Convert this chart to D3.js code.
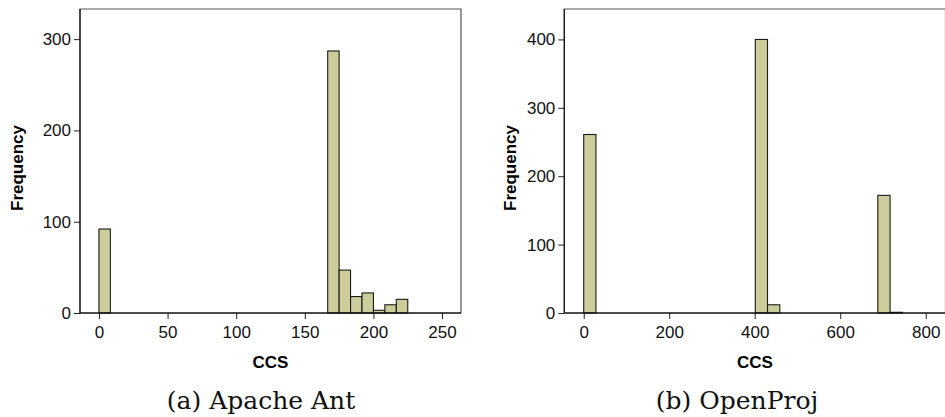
<!DOCTYPE html>
<html>
<head>
<meta charset="utf-8">
<script src="https://cdn.jsdelivr.net/npm/d3@7"></script>
<style>
  body { margin: 0; background: #fff; }
  svg { display: block; }
</style>
</head>
<body>
<div id="chart"></div>
<script>
// Apache Ant histogram (bin starts in CCS units, counts)
const antBinStarts = [0, 166.67, 175, 183.33, 191.67, 200, 208.33, 216.67];
const antCounts = [92, 287, 47, 18, 22, 3, 9, 15];
const antBinWidth = 8.33;
const antXTicks = [0, 50, 100, 150, 200, 250];
const antYTicks = [0, 100, 200, 300];

// OpenProj histogram
const projBinStarts = [0, 401.3, 430, 688, 716.7];
const projCounts = [261, 400, 12, 172, 1];
const projBinWidth = 28.67;
const projXTicks = [0, 200, 400, 600, 800];
const projYTicks = [0, 100, 200, 300, 400];

const width = 945;
const height = 417;

const svg = d3.select("#chart")
  .append("svg")
  .attr("width", width)
  .attr("height", height);

function drawHistogram(opts) {
  const { left, right, top, bottom } = opts;

  const x = d3.scaleLinear().domain(opts.xDomain).range([left, right]);
  const y = d3.scaleLinear().domain(opts.yDomain).range([bottom, top]);

  const bins = opts.starts.map((s, i) => ({ x0: s, x1: s + opts.binWidth, n: opts.counts[i] }));

  const g = svg.append("g");

  // frame: top, left, right
  g.append("path")
    .attr("d", `M${left},${bottom}V${top}H${right}V${bottom}`)
    .attr("fill", "none")
    .attr("stroke", "#555")
    .attr("stroke-width", 1.2);

  // bars
  g.selectAll("rect")
    .data(bins)
    .join("rect")
    .attr("x", d => x(d.x0))
    .attr("y", d => y(d.n))
    .attr("width", d => x(d.x1) - x(d.x0))
    .attr("height", d => y(0) - y(d.n))
    .attr("fill", "#cdcd9b")
    .attr("stroke", "#1a1a1a")
    .attr("stroke-width", 1.1);

  // x axis
  const xAxis = g.append("g")
    .attr("transform", `translate(0,${bottom})`)
    .call(d3.axisBottom(x).tickValues(opts.xTicks).tickSize(6).tickPadding(7).tickSizeOuter(0));
  xAxis.select(".domain").remove();
  g.append("line")
    .attr("x1", left).attr("x2", right)
    .attr("y1", bottom).attr("y2", bottom)
    .attr("stroke", "#111").attr("stroke-width", 1.5);

  // y axis
  const yAxis = g.append("g")
    .attr("transform", `translate(${left},0)`)
    .call(d3.axisLeft(y).tickValues(opts.yTicks).tickSize(6).tickPadding(3).tickSizeOuter(0));
  yAxis.select(".domain").remove();
  g.append("line")
    .attr("x1", left).attr("x2", left)
    .attr("y1", top).attr("y2", bottom)
    .attr("stroke", "#111").attr("stroke-width", 1.2);

  g.selectAll(".tick line").attr("stroke", "#222");
  g.selectAll(".tick text")
    .attr("fill", "#111")
    .style("font-family", "'Liberation Sans', Arial, sans-serif")
    .style("font-size", "17px");

  // axis titles
  g.append("text")
    .attr("x", (left + right) / 2)
    .attr("y", 368)
    .attr("text-anchor", "middle")
    .style("font-family", "'Liberation Sans', Arial, sans-serif")
    .style("font-size", "17px")
    .style("font-weight", "bold")
    .text("CCS");

  g.append("text")
    .attr("transform", `translate(${opts.yLabelX},${(top + bottom) / 2 + 7}) rotate(-90)`)
    .attr("text-anchor", "middle")
    .style("font-family", "'Liberation Sans', Arial, sans-serif")
    .style("font-size", "17px")
    .style("font-weight", "bold")
    .text("Frequency");

  // caption
  g.append("text")
    .attr("x", opts.captionX)
    .attr("y", 409)
    .attr("text-anchor", "middle")
    .attr("fill", "#111")
    .style("font-family", "'DejaVu Serif', serif")
    .style("font-size", "25px")
    .text(opts.caption);
}

drawHistogram({
  left: 80, right: 461, top: 9, bottom: 313,
  xDomain: [-13.8, 263.8], yDomain: [0, 333],
  starts: antBinStarts, counts: antCounts, binWidth: antBinWidth,
  xTicks: antXTicks, yTicks: antYTicks,
  yLabelX: 23, captionX: 261, caption: "(a) Apache Ant"
});

drawHistogram({
  left: 564.3, right: 945.5, top: 9, bottom: 313,
  xDomain: [-45.4, 846.3], yDomain: [0, 444.5],
  starts: projBinStarts, counts: projCounts, binWidth: projBinWidth,
  xTicks: projXTicks, yTicks: projYTicks,
  yLabelX: 516, captionX: 737, caption: "(b) OpenProj"
});
</script>
</body>
</html>
